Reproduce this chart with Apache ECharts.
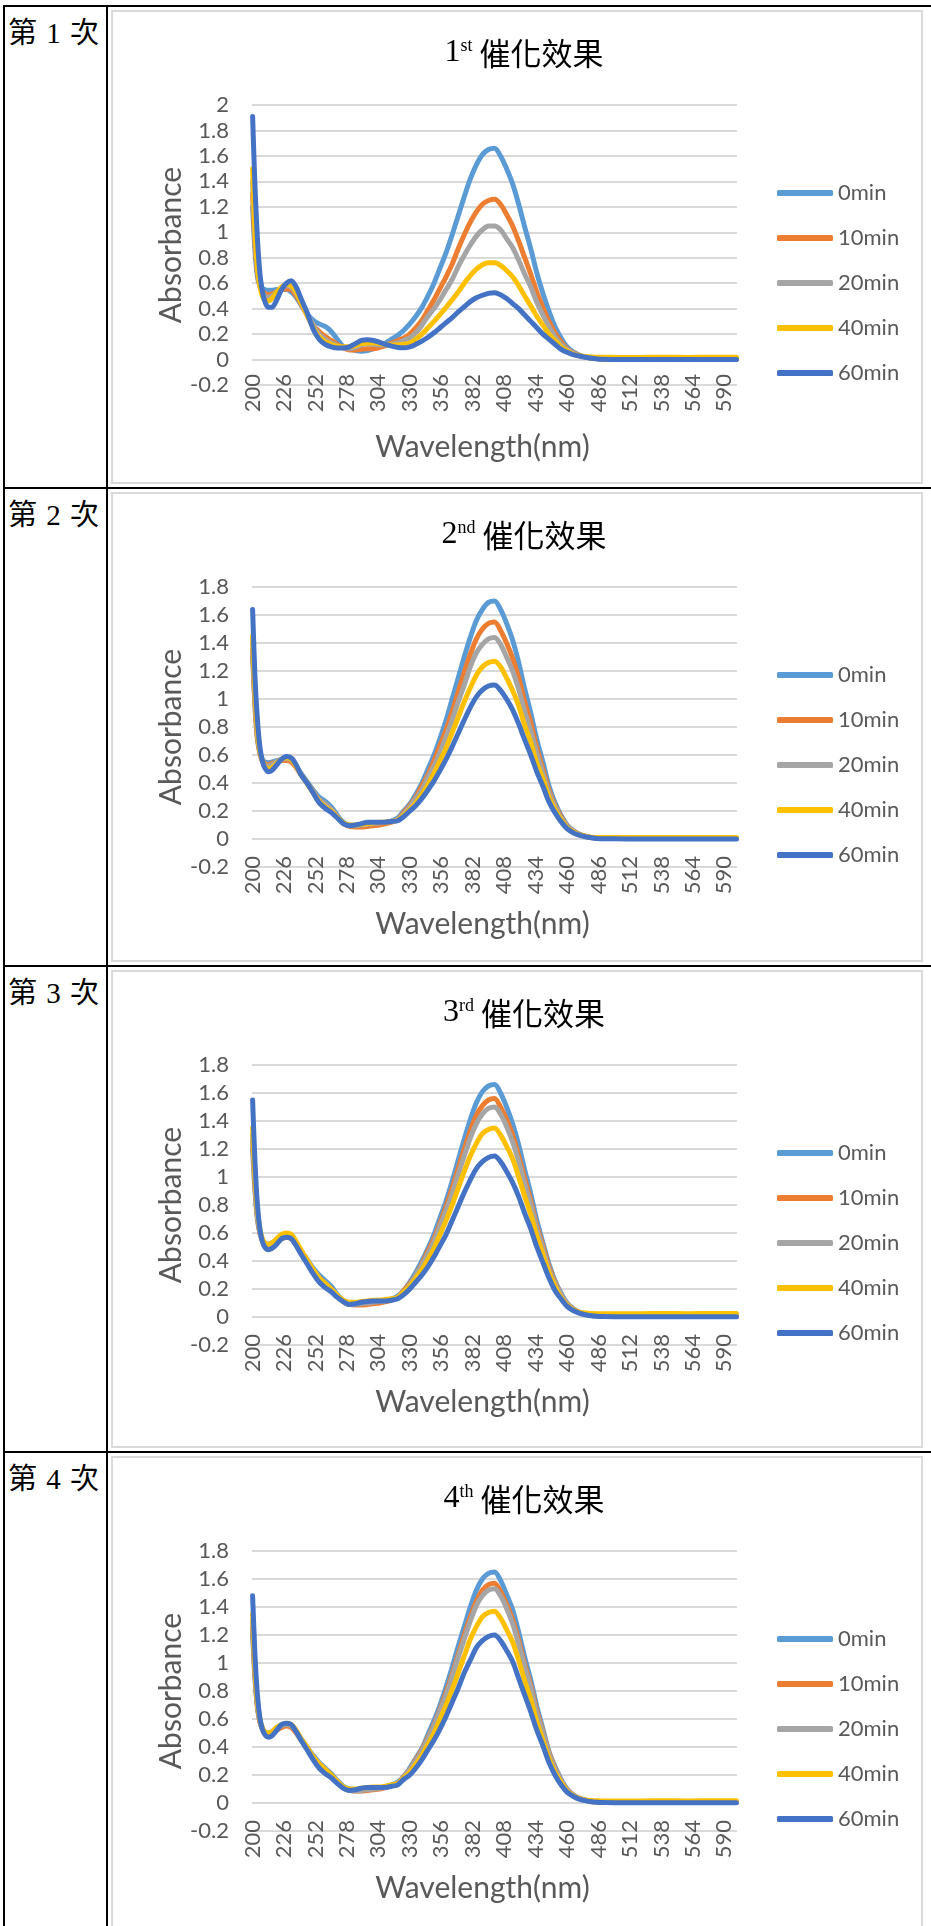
<!DOCTYPE html>
<html>
<head>
<meta charset="utf-8">
<script src="https://cdn.jsdelivr.net/npm/echarts@6/dist/echarts.min.js"></script>
<style>
  html, body { margin: 0; padding: 0; background: #fff; }
  #page { position: relative; width: 931px; height: 1926px; overflow: hidden; background: #fff; }
  .ln { position: absolute; background: #000; }
  .box { position: absolute; border: 2px solid #dadada; box-sizing: border-box; }
  .rl { position: absolute; left: 8px; font-family: "Liberation Serif", "Noto Sans CJK TC", serif; font-size: 29px; line-height: 34px; word-spacing: 2px; color: #000; white-space: pre; }
  #chart { position: absolute; left: 0; top: 0; width: 931px; height: 1926px; }
</style>
</head>
<body>
<div id="page"></div>
<script>
// ---------- data ----------
const ROW_LABELS = ['第 1 次', '第 2 次', '第 3 次', '第 4 次'];
const TITLE_NUM = ['1', '2', '3', '4'];
const TITLE_SUP = ['st', 'nd', 'rd', 'th'];
const TITLE_TEXT = '催化效果';
const SERIES_NAMES = ['0min', '10min', '20min', '40min', '60min'];
const X_TICKS = [200, 226, 252, 278, 304, 330, 356, 382, 408, 434, 460, 486, 512, 538, 564, 590];
const Y_MAX = [2, 1.8, 1.8, 1.8];
const WL = [200,202,204,206,208,210,213,216,220,224,228,232,236,240,245,250,255,260,265,270,275,280,285,290,295,300,305,310,315,
            320,325,330,335,340,345,350,355,360,365,370,375,380,385,390,395,400,405,410,415,420,425,430,435,440,445,450,455,460,465,470,475,480,
            485,490,500,520,540,560,580,600];

// Chart 1
const C1_0  = [1.2,0.85,0.65,0.58,0.56,0.55,0.545,0.545,0.55,0.55,0.55,0.53,0.49,0.43,0.36,0.31,0.28,0.26,0.22,0.16,0.1,0.085,0.07,0.065,0.07,0.085,0.105,0.13,0.16,
               0.19,0.23,0.28,0.34,0.41,0.5,0.6,0.72,0.84,0.98,1.13,1.28,1.42,1.53,1.61,1.65,1.66,1.6,1.5,1.38,1.22,1.04,0.87,0.68,0.52,0.38,0.26,0.17,0.1,0.06,0.035,0.02,0.012,
               0.008,0.006,0.005,0.005,0.005,0.005,0.005,0.005];
const C1_10 = [1.3,0.9,0.68,0.58,0.54,0.52,0.51,0.515,0.53,0.55,0.555,0.55,0.5,0.44,0.35,0.27,0.22,0.18,0.15,0.12,0.09,0.075,0.075,0.08,0.085,0.085,0.095,0.11,0.13,
               0.15,0.17,0.2,0.25,0.31,0.39,0.47,0.56,0.65,0.75,0.87,0.98,1.08,1.16,1.22,1.25,1.26,1.22,1.14,1.05,0.93,0.8,0.67,0.53,0.41,0.3,0.21,0.14,0.085,0.053,0.032,0.02,0.012,
               0.006,0.004,0.003,0.003,0.003,0.003,0.003,0.003];
const C1_20 = [1.4,0.95,0.7,0.58,0.53,0.5,0.49,0.5,0.53,0.56,0.58,0.57,0.52,0.45,0.36,0.27,0.2,0.16,0.13,0.11,0.095,0.085,0.095,0.115,0.125,0.12,0.115,0.115,0.12,
               0.13,0.15,0.17,0.21,0.27,0.34,0.4,0.47,0.55,0.63,0.73,0.82,0.9,0.97,1.02,1.05,1.05,1.02,0.95,0.88,0.78,0.67,0.57,0.45,0.35,0.26,0.18,0.12,0.077,0.049,0.03,0.02,0.013,
               0.01,0.008,0.007,0.007,0.007,0.007,0.007,0.007];
const C1_40 = [1.5,1.0,0.72,0.58,0.5,0.47,0.46,0.48,0.53,0.57,0.59,0.58,0.53,0.45,0.35,0.25,0.18,0.14,0.12,0.105,0.1,0.1,0.11,0.125,0.13,0.13,0.125,0.12,0.115,
               0.115,0.12,0.13,0.16,0.2,0.25,0.3,0.355,0.41,0.47,0.53,0.6,0.66,0.71,0.745,0.76,0.76,0.74,0.7,0.65,0.58,0.5,0.42,0.34,0.27,0.2,0.15,0.1,0.067,0.043,0.03,0.024,0.02,
               0.018,0.018,0.017,0.017,0.018,0.017,0.018,0.018];
const C1_60 = [1.91,1.35,0.95,0.68,0.54,0.46,0.41,0.41,0.47,0.55,0.6,0.62,0.57,0.48,0.37,0.24,0.16,0.12,0.1,0.09,0.09,0.1,0.125,0.15,0.155,0.15,0.135,0.12,0.105,
               0.095,0.092,0.1,0.12,0.145,0.175,0.21,0.25,0.29,0.33,0.375,0.415,0.455,0.485,0.505,0.52,0.525,0.51,0.48,0.44,0.4,0.35,0.3,0.25,0.2,0.16,0.12,0.08,0.057,0.039,0.028,0.018,0.01,
               0.005,0.002,0,0,0,0,0,0];

// Chart 2
const C2_0  = [1.3,0.95,0.72,0.62,0.57,0.55,0.545,0.55,0.56,0.565,0.57,0.56,0.52,0.47,0.41,0.35,0.3,0.27,0.23,0.17,0.12,0.1,0.095,0.095,0.1,0.105,0.11,0.12,0.13,
               0.15,0.2,0.25,0.32,0.4,0.5,0.6,0.72,0.85,1.0,1.15,1.3,1.44,1.56,1.64,1.69,1.7,1.64,1.54,1.42,1.26,1.07,0.9,0.71,0.55,0.38,0.26,0.17,0.1,0.06,0.036,0.021,0.011,
               0.008,0.007,0.006,0.006,0.006,0.006,0.006,0.006];
const C2_10 = [1.35,0.95,0.72,0.61,0.56,0.54,0.53,0.54,0.55,0.56,0.56,0.55,0.51,0.46,0.4,0.34,0.28,0.25,0.21,0.16,0.11,0.09,0.085,0.085,0.09,0.095,0.1,0.11,0.12,
               0.14,0.19,0.24,0.3,0.38,0.46,0.56,0.67,0.78,0.91,1.05,1.19,1.32,1.43,1.5,1.54,1.55,1.49,1.4,1.29,1.15,0.98,0.83,0.65,0.5,0.35,0.24,0.16,0.094,0.056,0.034,0.02,0.01,
               0.006,0.005,0.004,0.004,0.004,0.004,0.004,0.004];
const C2_20 = [1.4,1.0,0.75,0.62,0.56,0.53,0.52,0.53,0.55,0.57,0.575,0.565,0.52,0.46,0.4,0.34,0.28,0.25,0.21,0.16,0.115,0.095,0.095,0.1,0.105,0.11,0.115,0.12,0.125,
               0.14,0.18,0.23,0.29,0.35,0.44,0.52,0.62,0.73,0.85,0.98,1.1,1.23,1.33,1.39,1.43,1.44,1.39,1.3,1.2,1.07,0.91,0.77,0.61,0.47,0.33,0.23,0.15,0.089,0.054,0.032,0.019,0.01,
               0.008,0.007,0.006,0.006,0.006,0.006,0.006,0.006];
const C2_40 = [1.45,1.05,0.78,0.63,0.56,0.52,0.5,0.51,0.54,0.57,0.58,0.57,0.52,0.46,0.4,0.33,0.27,0.23,0.2,0.155,0.115,0.1,0.1,0.105,0.11,0.115,0.12,0.12,0.125,
               0.135,0.17,0.21,0.26,0.32,0.39,0.47,0.56,0.65,0.76,0.87,0.98,1.08,1.17,1.23,1.26,1.27,1.23,1.15,1.06,0.95,0.81,0.69,0.54,0.43,0.3,0.21,0.14,0.081,0.05,0.03,0.02,0.012,
               0.01,0.01,0.01,0.01,0.01,0.01,0.01,0.01];
const C2_60 = [1.64,1.15,0.85,0.66,0.56,0.51,0.48,0.49,0.53,0.57,0.59,0.58,0.53,0.46,0.4,0.33,0.26,0.22,0.19,0.15,0.11,0.095,0.1,0.11,0.12,0.12,0.12,0.12,0.125,
               0.13,0.16,0.2,0.24,0.29,0.35,0.415,0.49,0.57,0.66,0.755,0.85,0.94,1.015,1.065,1.093,1.1,1.062,0.999,0.923,0.822,0.708,0.6,0.48,0.378,0.266,0.187,0.124,0.074,0.045,0.027,0.016,0.009,
               0.004,0.002,0.001,0,0,0,0,0];

// Chart 3
const C3_0  = [1.2,0.9,0.7,0.6,0.55,0.53,0.52,0.53,0.55,0.56,0.57,0.56,0.52,0.47,0.41,0.35,0.3,0.26,0.22,0.16,0.12,0.1,0.095,0.095,0.1,0.105,0.11,0.12,0.13,
               0.15,0.19,0.25,0.32,0.4,0.49,0.59,0.71,0.83,0.97,1.12,1.27,1.41,1.53,1.61,1.65,1.66,1.6,1.5,1.38,1.23,1.05,0.88,0.69,0.53,0.38,0.26,0.17,0.1,0.059,0.035,0.02,0.011,
               0.008,0.007,0.006,0.006,0.006,0.006,0.006,0.006];
const C3_10 = [1.25,0.92,0.71,0.6,0.55,0.52,0.51,0.52,0.54,0.56,0.57,0.56,0.52,0.46,0.4,0.34,0.28,0.24,0.2,0.15,0.11,0.09,0.085,0.085,0.09,0.095,0.1,0.11,0.12,
               0.14,0.19,0.24,0.3,0.38,0.47,0.56,0.67,0.79,0.92,1.06,1.2,1.33,1.44,1.51,1.55,1.56,1.5,1.41,1.3,1.15,0.99,0.83,0.65,0.51,0.36,0.25,0.16,0.094,0.057,0.034,0.02,0.011,
               0.008,0.007,0.006,0.006,0.006,0.006,0.006,0.006];
const C3_20 = [1.3,0.95,0.72,0.61,0.55,0.52,0.51,0.52,0.55,0.57,0.58,0.57,0.53,0.47,0.4,0.34,0.28,0.24,0.2,0.15,0.11,0.09,0.09,0.095,0.1,0.105,0.11,0.115,0.125,
               0.14,0.18,0.23,0.3,0.37,0.45,0.54,0.65,0.76,0.88,1.02,1.15,1.28,1.38,1.45,1.49,1.5,1.45,1.36,1.25,1.11,0.95,0.8,0.63,0.49,0.34,0.24,0.16,0.092,0.055,0.033,0.02,0.011,
               0.008,0.008,0.008,0.008,0.008,0.008,0.008,0.008];
const C3_40 = [1.35,1.0,0.76,0.63,0.56,0.53,0.52,0.53,0.56,0.59,0.6,0.59,0.54,0.48,0.41,0.34,0.28,0.24,0.2,0.155,0.12,0.105,0.105,0.11,0.115,0.12,0.12,0.125,0.13,
               0.14,0.18,0.22,0.28,0.34,0.41,0.49,0.59,0.69,0.8,0.92,1.04,1.15,1.24,1.31,1.34,1.35,1.3,1.22,1.13,1.0,0.86,0.73,0.58,0.45,0.32,0.22,0.14,0.085,0.05,0.035,0.028,0.025,
               0.024,0.024,0.023,0.024,0.025,0.024,0.025,0.025];
const C3_60 = [1.55,1.1,0.8,0.63,0.54,0.5,0.48,0.49,0.52,0.56,0.57,0.56,0.51,0.45,0.38,0.31,0.25,0.21,0.18,0.14,0.11,0.09,0.095,0.105,0.11,0.115,0.115,0.115,0.12,
               0.13,0.16,0.2,0.25,0.3,0.36,0.43,0.51,0.59,0.69,0.79,0.89,0.98,1.06,1.11,1.14,1.15,1.11,1.04,0.96,0.86,0.74,0.63,0.5,0.39,0.28,0.19,0.13,0.076,0.046,0.028,0.016,0.009,
               0.005,0.003,0.002,0.002,0.002,0.002,0.002,0.002];

// Chart 4
const C4_0  = [1.2,0.88,0.68,0.58,0.53,0.51,0.5,0.51,0.53,0.55,0.56,0.55,0.51,0.46,0.4,0.34,0.29,0.25,0.21,0.16,0.12,0.1,0.09,0.09,0.095,0.1,0.105,0.115,0.13,
               0.15,0.19,0.25,0.32,0.39,0.49,0.59,0.7,0.83,0.97,1.12,1.26,1.4,1.52,1.6,1.64,1.65,1.59,1.49,1.38,1.22,1.04,0.88,0.69,0.53,0.37,0.26,0.17,0.1,0.059,0.035,0.02,0.011,
               0.008,0.007,0.006,0.006,0.006,0.006,0.006,0.006];
const C4_10 = [1.25,0.9,0.69,0.58,0.53,0.5,0.49,0.5,0.52,0.54,0.55,0.54,0.5,0.45,0.39,0.33,0.28,0.24,0.2,0.15,0.11,0.09,0.085,0.085,0.09,0.095,0.1,0.11,0.125,
               0.14,0.19,0.24,0.31,0.38,0.47,0.56,0.67,0.79,0.92,1.06,1.2,1.33,1.44,1.52,1.56,1.57,1.51,1.42,1.31,1.16,0.99,0.84,0.66,0.51,0.36,0.25,0.16,0.095,0.057,0.034,0.02,0.011,
               0.007,0.006,0.005,0.005,0.005,0.005,0.005,0.005];
const C4_20 = [1.3,0.93,0.7,0.59,0.53,0.5,0.49,0.5,0.53,0.55,0.56,0.55,0.51,0.45,0.39,0.33,0.28,0.24,0.2,0.15,0.11,0.09,0.085,0.09,0.095,0.1,0.105,0.115,0.125,
               0.14,0.19,0.24,0.3,0.37,0.46,0.55,0.66,0.77,0.9,1.04,1.17,1.3,1.41,1.48,1.52,1.53,1.48,1.39,1.28,1.13,0.97,0.82,0.64,0.5,0.35,0.24,0.16,0.093,0.056,0.033,0.02,0.011,
               0.008,0.007,0.007,0.007,0.007,0.007,0.007,0.007];
const C4_40 = [1.35,0.96,0.72,0.6,0.54,0.51,0.5,0.51,0.54,0.56,0.57,0.56,0.52,0.46,0.4,0.33,0.28,0.24,0.2,0.155,0.115,0.1,0.1,0.105,0.11,0.115,0.115,0.12,0.13,
               0.14,0.18,0.22,0.28,0.34,0.42,0.5,0.6,0.7,0.81,0.93,1.05,1.17,1.26,1.33,1.36,1.37,1.32,1.24,1.15,1.02,0.87,0.74,0.58,0.45,0.32,0.22,0.15,0.086,0.052,0.033,0.022,0.018,
               0.016,0.015,0.015,0.015,0.016,0.015,0.016,0.016];
const C4_60 = [1.48,1.05,0.77,0.61,0.53,0.49,0.47,0.48,0.52,0.56,0.57,0.56,0.51,0.45,0.38,0.31,0.25,0.21,0.18,0.14,0.105,0.09,0.095,0.105,0.11,0.11,0.11,0.11,0.12,
               0.13,0.17,0.2,0.25,0.31,0.38,0.45,0.53,0.62,0.72,0.82,0.93,1.02,1.11,1.16,1.19,1.2,1.16,1.09,1.01,0.89,0.77,0.65,0.52,0.41,0.29,0.2,0.13,0.078,0.048,0.028,0.017,0.009,
               0.005,0.003,0.002,0.002,0.002,0.002,0.002,0.002];

const CHART_DATA = [
  [C1_0, C1_10, C1_20, C1_40, C1_60],
  [C2_0, C2_10, C2_20, C2_40, C2_60],
  [C3_0, C3_10, C3_20, C3_40, C3_60],
  [C4_0, C4_10, C4_20, C4_40, C4_60]
];

// ---------- layout / style ----------
const COLORS = ['#5B9BD5', '#ED7D31', '#A5A5A5', '#FFC000', '#4472C4'];
const ROW_TOP = [6, 488, 966, 1452];
const X_NAME_GAP = [47, 42, 42, 42];
const PAGE_W = 931, PAGE_H = 1926;
const TXT = '#595959';
const FONT = 'Lato, "Noto Sans", sans-serif';

const page = document.getElementById('page');
function addDiv(cls, l, t, w, h, text) {
  const d = document.createElement('div');
  d.className = cls;
  d.style.left = l + 'px'; d.style.top = t + 'px';
  if (w != null) d.style.width = w + 'px';
  if (h != null) d.style.height = h + 'px';
  if (text) d.textContent = text;
  page.appendChild(d);
  return d;
}
// chart frames
for (let i = 0; i < 4; i++) {
  const top = ROW_TOP[i] + 4;
  const bottom = i < 3 ? ROW_TOP[i + 1] - 4 : PAGE_H + 10;
  addDiv('box', 111, top, 812, bottom - top);
}
// table rules
for (let i = 0; i < 4; i++) addDiv('ln', 3, ROW_TOP[i] - 1, PAGE_W - 3, 2);
addDiv('ln', 3, ROW_TOP[0] - 1, 2, PAGE_H);
addDiv('ln', 106, ROW_TOP[0] - 1, 2, PAGE_H);
// row labels
for (let i = 0; i < 4; i++) addDiv('rl', 8, ROW_TOP[i] + 10, null, null, ROW_LABELS[i]);

const chartDiv = document.createElement('div');
chartDiv.id = 'chart';
page.appendChild(chartDiv);

const option = { animation: false, title: [], legend: [], grid: [], xAxis: [], yAxis: [], series: [] };
for (let i = 0; i < 4; i++) {
  const R = ROW_TOP[i];
  option.title.push({
    left: 519, top: R + 23, textAlign: 'center',
    text: '{n|' + TITLE_NUM[i] + '}{s|' + TITLE_SUP[i] + '}{c| ' + TITLE_TEXT + '}',
    textStyle: {
      fontWeight: 'normal',
      rich: {
        n: { fontFamily: '"Liberation Serif", serif', fontSize: 32, fontWeight: 'normal', color: '#000', lineHeight: 38 },
        s: { fontFamily: '"Liberation Serif", serif', fontSize: 18, fontWeight: 'normal', color: '#000', verticalAlign: 'top', lineHeight: 38, padding: [3, 0, 0, 0] },
        c: { fontFamily: '"Noto Sans CJK TC", sans-serif', fontSize: 31, fontWeight: 'normal', color: '#000', lineHeight: 38 }
      }
    }
  });
  option.legend.push({
    orient: 'vertical', left: 772, top: R + 169,
    itemWidth: 56, itemHeight: 6, itemGap: 19, icon: 'roundRect',
    textStyle: { fontSize: 22, color: TXT, fontFamily: FONT, lineHeight: 26 },
    data: SERIES_NAMES.slice()
  });
  option.grid.push({ left: 252, width: 485, top: R + 99, height: 280 });
  option.xAxis.push({
    gridIndex: i, type: 'value', min: 199.5, max: 600.5,
    axisLine: { show: false, onZero: false },
    axisTick: { show: false },
    splitLine: { show: false },
    axisLabel: { customValues: X_TICKS, rotate: 90, margin: -11, fontSize: 22, color: TXT, fontFamily: FONT },
    name: 'Wavelength(nm)', nameLocation: 'middle', nameGap: X_NAME_GAP[i],
    nameTextStyle: { fontSize: 30, color: TXT, fontFamily: FONT, padding: [0, 24, 0, 0] }
  });
  option.yAxis.push({
    gridIndex: i, type: 'value', min: -0.2, max: Y_MAX[i], interval: 0.2,
    axisLine: { show: false }, axisTick: { show: false },
    splitLine: { show: true, lineStyle: { color: '#d9d9d9', width: 2 } },
    axisLabel: { fontSize: 22, color: TXT, margin: 23, fontFamily: FONT },
    name: 'Absorbance', nameLocation: 'middle', nameGap: 66, nameRotate: 90, nameMoveOverlap: false,
    nameTextStyle: { fontSize: 30, color: TXT, fontFamily: FONT }
  });
  for (let k = 0; k < 5; k++) {
    const vals = CHART_DATA[i][k];
    option.series.push({
      type: 'line', name: SERIES_NAMES[k], xAxisIndex: i, yAxisIndex: i,
      data: WL.map((w, j) => [w, vals[j]]),
      showSymbol: false, symbol: 'none', smooth: 0.3,
      lineStyle: { width: 5, color: COLORS[k], cap: 'round', join: 'round' },
      itemStyle: { color: COLORS[k] },
      emphasis: { disabled: true }
    });
  }
}
const chart = echarts.init(chartDiv, null, { renderer: 'canvas', width: PAGE_W, height: PAGE_H });
chart.setOption(option);
</script>
</body>
</html>
